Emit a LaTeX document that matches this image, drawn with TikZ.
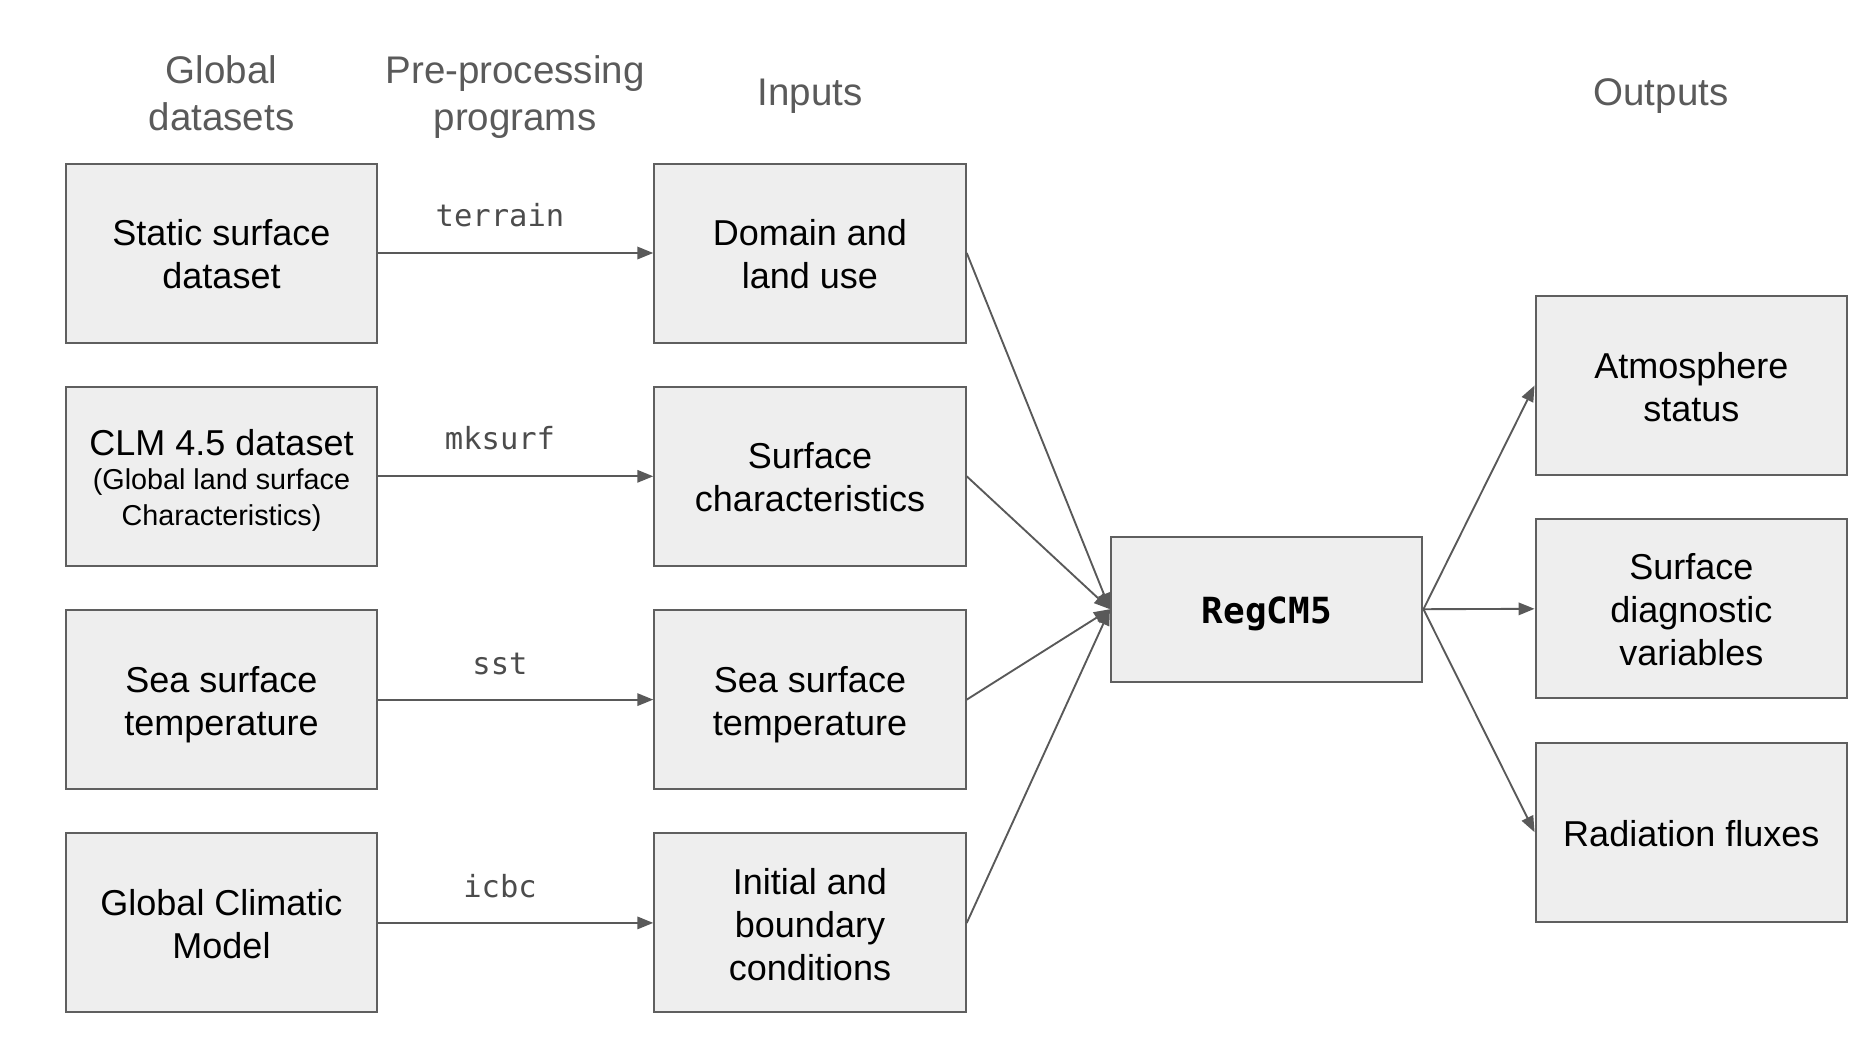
\documentclass[tikz,border=0pt]{standalone}
\usepackage{fontspec}
\setmainfont{Liberation Sans}
\setmonofont{DejaVu Sans Mono}
\usetikzlibrary{arrows.meta}
\definecolor{boxfill}{HTML}{EEEEEE}
\definecolor{boxline}{HTML}{5F5F5F}
\definecolor{hdrgray}{HTML}{5A5A5A}
\definecolor{arrgray}{HTML}{595959}
\newcommand\gtop{\rule{0pt}{14.4pt}}
\newcommand\gbot{\rule[-3.1pt]{0pt}{3.1pt}}
\tikzset{
  box/.style={draw=boxline, line width=0.8pt, fill=boxfill, minimum width=124.6pt, minimum height=71.6pt, inner sep=0pt, align=center, text=black, font=\fontsize{14.4pt}{17.2pt}\selectfont},
  corebox/.style={box, minimum height=58pt, font=\ttfamily\bfseries\fontsize{14.4pt}{17.2pt}\selectfont},
  header/.style={align=center, text=hdrgray, inner sep=0pt, font=\fontsize{15.4pt}{18.8pt}\selectfont},
  prog/.style={text=arrgray!85!black, inner sep=0pt, font=\ttfamily\fontsize{12.2pt}{14pt}\selectfont},
  arr/.style={draw=arrgray, line width=0.75pt, -{Triangle[length=6.4pt,width=5pt]}}
}
\begin{document}
\begin{tikzpicture}[x=0.4pt,y=-0.4pt]
\useasboundingbox (0,0) rectangle (1872,1048);
% headers
\node[header] (h1) at (221.5,93.5) {Global\\datasets};
\node[header] (h2) at (515,97.5) {Pre-processing\\programs};
\node[header] (h3) at (810,96.5) {Inputs};
\node[header] (h4) at (1661,96.5) {Outputs};
% global datasets
\node[box] (g1) at (221.5,253) {\gtop Static surface\\dataset\gbot};
\node[box] (g2) at (221.5,476.3) {\gtop CLM 4.5 dataset\\[-3.6pt]\fontsize{11.5pt}{13.8pt}\selectfont (Global land surface\\[-2.9pt]\fontsize{11.5pt}{13.8pt}\selectfont Characteristics)\gbot};
\node[box] (g3) at (221.5,699.6) {\gtop Sea surface\\temperature\gbot};
\node[box] (g4) at (221.5,922.9) {\gtop Global Climatic\\Model\gbot};
% inputs
\node[box] (i1) at (810,253) {\gtop Domain and\\land use\gbot};
\node[box] (i2) at (810,476.3) {\gtop Surface\\characteristics\gbot};
\node[box] (i3) at (810,699.6) {\gtop Sea surface\\temperature\gbot};
\node[box] (i4) at (810,922.9) {\gtop Initial and\\boundary\\conditions\gbot};
% core
\node[corebox] (core) at (1266.7,609.2) {\gtop RegCM5\gbot};
% outputs
\node[box] (o1) at (1691.3,385.5) {\gtop Atmosphere\\status\gbot};
\node[box] (o2) at (1691.3,608.8) {\gtop Surface\\diagnostic\\variables\gbot};
\node[box] (o3) at (1691.3,832.2) {\gtop Radiation fluxes\gbot};
% program labels
\node[prog] (p1) at (500,215) {terrain};
\node[prog] (p2) at (500,438) {mksurf};
\node[prog] (p3) at (500,663.5) {sst};
\node[prog] (p4) at (500,886) {icbc};
% connectors
\draw[arr] (g1.east) -- (i1.west);
\draw[arr] (g2.east) -- (i2.west);
\draw[arr] (g3.east) -- (i3.west);
\draw[arr] (g4.east) -- (i4.west);
\draw[arr] (i1.east) -- (core.west);
\draw[arr] (i2.east) -- (core.west);
\draw[arr] (i3.east) -- (core.west);
\draw[arr] (i4.east) -- (core.west);
\draw[arr] (core.east) -- (o1.west);
\draw[arr] (core.east) -- (o2.west);
\draw[arr] (core.east) -- (o3.west);
\end{tikzpicture}
\end{document}
